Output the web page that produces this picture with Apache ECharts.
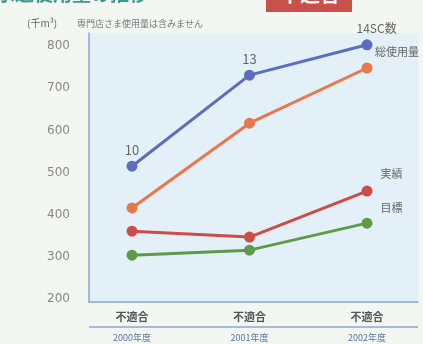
<!DOCTYPE html>
<html>
<head>
<meta charset="utf-8">
<script src="https://cdn.jsdelivr.net/npm/echarts@6/dist/echarts.min.js"></script>
<style>
  html, body { margin: 0; padding: 0; background: #f3f7f2; }
  #chart { width: 423px; height: 344px; }
</style>
</head>
<body>
<div id="chart"></div>
<script>
// Fiscal-year categories and the two-line axis captions
const categories = ['不適合', '不適合', '不適合'];
const years = ['2000年度', '2001年度', '2002年度'];

// Usage series (thousand m³)
const scCount   = [515, 731, 803];   // SC数 line
const totalUse  = [416, 617, 748];   // 総使用量
const actual    = [361, 347, 456];   // 実績
const target    = [304, 316, 380];   // 目標

// Point labels on the SC数 line
const scLabels = ['10', '13', '14SC数'];

const yTicks = [200, 300, 400, 500, 600, 700, 800];

const FONT = '"Noto Sans CJK JP", "Noto Sans", sans-serif';

function lineSeries(name, values, color, endLabel, endPos) {
  const data = values.map((v, i) => {
    const item = { value: [i, v] };
    if (endLabel && i === values.length - 1) {
      item.label = {
        show: true,
        position: endPos,
        formatter: endLabel,
        color: '#666',
        fontSize: 11,
        fontFamily: FONT,
        align: 'left',
        verticalAlign: 'top'
      };
    }
    return item;
  });
  return {
    name: name,
    type: 'line',
    data: data,
    symbol: 'circle',
    symbolSize: 11,
    lineStyle: { color: color, width: 3 },
    itemStyle: { color: color },
    label: { show: false },
    z: 3
  };
}

const chart = echarts.init(document.getElementById('chart'));

const scSeries = lineSeries('SC数', scCount, '#5d6bc2');
scSeries.data = scCount.map((v, i) => ({
  value: [i, v],
  label: {
    show: true,
    formatter: scLabels[i],
    color: '#666',
    fontSize: i === 2 ? 12 : 13,
    fontFamily: FONT,
    position: i === 2 ? [-5, -17] : 'top',
    align: i === 2 ? 'left' : 'center',
    verticalAlign: i === 2 ? 'top' : 'bottom',
    distance: 4
  }
}));

chart.setOption({
  backgroundColor: '#f3f7f2',
  animation: false,
  grid: {
    left: 89, top: 33, width: 329, height: 269,
    show: true,
    backgroundColor: '#e4f0f8',
    borderWidth: 0,
    containLabel: false,
    outerBoundsMode: 'none'
  },
  xAxis: {
    type: 'value',
    min: -0.366,
    max: 2.434,
    axisLine: { show: true, onZero: false, lineStyle: { color: '#86a8d8', width: 1.5 } },
    axisTick: { show: false },
    splitLine: { show: false },
    axisLabel: {
      customValues: [0, 1, 2],
      margin: 7,
      formatter: v => '{a|' + categories[v] + '}\n{b|' + years[v] + '}',
      rich: {
        a: { fontSize: 11, fontWeight: 'bold', color: '#555', fontFamily: FONT, lineHeight: 16 },
        b: { fontSize: 9, color: '#5a74a6', fontFamily: FONT, lineHeight: 26 }
      }
    }
  },
  yAxis: {
    type: 'value',
    min: 193,
    max: 831,
    axisLine: { show: true, onZero: false, lineStyle: { color: '#86a8d8', width: 1.5 } },
    axisTick: { show: false },
    splitLine: { show: false },
    axisLabel: {
      customValues: yTicks,
      margin: 19,
      color: '#888',
      fontSize: 12,
      fontFamily: '"DejaVu Sans", sans-serif'
    }
  },
  graphic: [
    // heading, partly above the top edge
    {
      type: 'text', left: -4, top: -16, z: 10,
      style: { text: '水道使用量の推移', fill: '#3d9a8a', font: 'bold 19px ' + FONT }
    },
    // red tag at the top
    {
      type: 'rect', shape: { x: 266, y: -6, width: 86, height: 18 }, z: 10,
      style: { fill: '#c9514b' }
    },
    {
      type: 'text', left: 280, top: -16, z: 11,
      style: { text: '不適合', fill: '#fff', font: 'bold 20px ' + FONT }
    },
    // unit and note
    {
      type: 'text', left: 27, top: 18, z: 10,
      style: { text: '(千m³)', fill: '#666', font: '10px ' + FONT }
    },
    {
      type: 'text', left: 77, top: 19, z: 10,
      style: { text: '専門店さま使用量は含みません', fill: '#777', font: '9px ' + FONT }
    },
    // separator between category and year rows
    {
      type: 'line', shape: { x1: 89, y1: 327, x2: 418, y2: 327 }, z: 10,
      style: { stroke: '#86a8d8', lineWidth: 1.5 }
    }
  ],
  series: [
    scSeries,
    lineSeries('総使用量', totalUse, '#e8774b', '総使用量', [13.5, -16]),
    lineSeries('実績', actual, '#cc4c47', '実績', [19, -17]),
    lineSeries('目標', target, '#5f9b47', '目標', [19, -15])
  ]
});
</script>
</body>
</html>
